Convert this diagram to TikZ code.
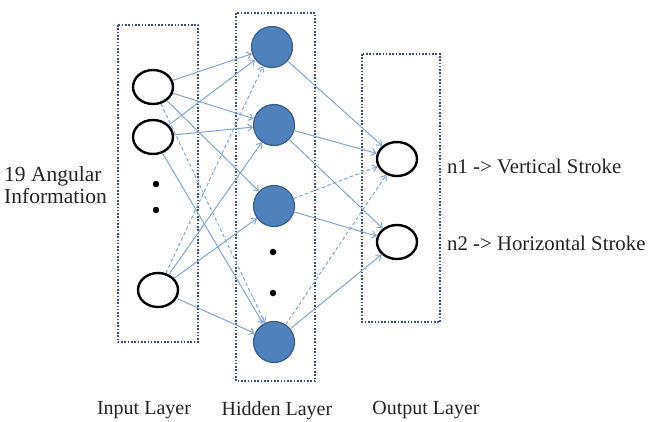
\documentclass[tikz,border=0pt]{standalone}
\usepackage{fontspec}
\setmainfont{Liberation Serif}
\usetikzlibrary{shapes.geometric,arrows.meta}
\definecolor{linkblue}{RGB}{132,164,208}
\definecolor{boxblue}{RGB}{58,78,122}
\definecolor{hidfill}{RGB}{79,129,189}
\definecolor{hidedge}{RGB}{56,93,138}
\definecolor{inkgray}{RGB}{35,35,35}
\tikzset{
  layerbox/.style={draw=boxblue, line width=2.3pt, dash pattern=on 1.6pt off 1.7pt},
  io/.style={ellipse, draw=black, line width=2.4pt, fill=white, minimum width=40pt, minimum height=34pt, inner sep=0pt},
  hid/.style={circle, draw=hidedge, line width=1.2pt, fill=hidfill, minimum size=41pt, inner sep=0pt},
  dotmark/.style={circle, fill=black, minimum size=6.5pt, inner sep=0pt},
  link/.style={draw=linkblue, line width=1pt, -{Straight Barb[length=4.5pt,width=7pt]}},
  dlink/.style={link, dash pattern=on 3.5pt off 2.5pt},
  lbl/.style={font=\fontsize{20}{22}\selectfont, text=inkgray, inner sep=0pt},
  side/.style={font=\fontsize{20.8}{22}\selectfont, text=inkgray, inner sep=0pt, anchor=west}
}
\begin{document}
\begin{tikzpicture}[x=1pt,y=-1pt]
\useasboundingbox (0,0) rectangle (648,421);

% layer frames
\draw[layerbox] (118,25) rectangle (198,342);
\draw[layerbox] (236,13) rectangle (315,381);
\draw[layerbox] (362,54) rectangle (440,322);

% input layer
\node[io] (i1) at (153,87) {};
\node[io] (i2) at (153,137) {};
\node[io] (i3) at (158,290) {};
\node[dotmark] (id1) at (156,184) {};
\node[dotmark] (id2) at (156,210) {};

% hidden layer
\node[hid] (h1) at (272,47) {};
\node[hid] (h2) at (274,125) {};
\node[hid] (h3) at (274,206) {};
\node[hid] (h4) at (274,342) {};
\node[dotmark] (hd1) at (273,252) {};
\node[dotmark] (hd2) at (273,293) {};

% output layer
\node[io] (o1) at (397,159) {};
\node[io] (o2) at (397,242) {};

% input -> hidden
\draw[link] (i1) -- (h1);
\draw[link] (i1) -- (h2);
\draw[link] (i1) -- (h3);
\draw[dlink] (i1) -- (h4);
\draw[link] (i2) -- (h1);
\draw[link] (i2) -- (h2);
\draw[link] (i2) -- (h4);
\draw[dlink] (i3) -- (h1);
\draw[link] (i3) -- (h2);
\draw[link] (i3) -- (h3);
\draw[link] (i3) -- (h4);

% hidden -> output
\draw[link] (h1) -- (o1);
\draw[link] (h2) -- (o1);
\draw[link] (h2) -- (o2);
\draw[dlink] (h3) -- (o1);
\draw[link] (h3) -- (o2);
\draw[dlink] (h4) -- (o1);
\draw[link] (h4) -- (o2);

% labels
\node[side] (t1) at (447,166) {n1 -> Vertical Stroke};
\node[side] (t2) at (447,243) {n2 -> Horizontal Stroke};
\node[side, font=\fontsize{21.5}{22}\selectfont, align=left] (tin) at (4,185) {19 Angular\\Information};
\node[lbl] (l1) at (144,410) {Input Layer};
\node[lbl] (l2) at (277,411) {Hidden Layer};
\node[lbl] (l3) at (426,410) {Output Layer};
\end{tikzpicture}
\end{document}
